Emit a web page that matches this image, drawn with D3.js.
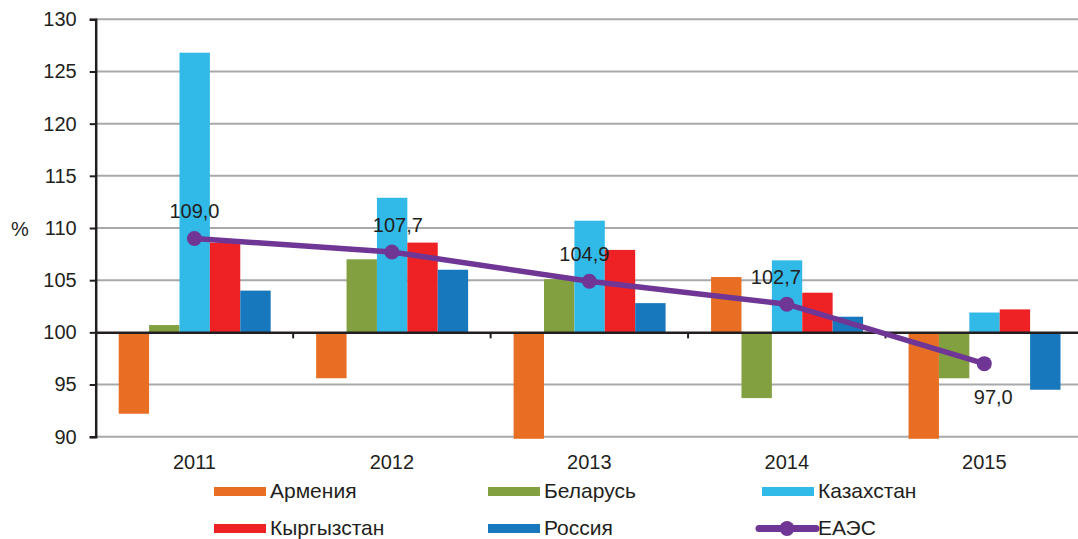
<!DOCTYPE html>
<html><head><meta charset="utf-8">
<script src="https://cdn.jsdelivr.net/npm/d3@7"></script>
<style>body{margin:0;background:#fff}svg{display:block}text{font-family:Arial,"Liberation Sans",sans-serif;fill:#231F20}</style>
</head><body><svg id="c" width="1078" height="539"></svg>
<script>
const years = ["2011","2012","2013","2014","2015"];
const seriesNames = ["Армения","Беларусь","Казахстан","Кыргызстан","Россия"];
const armenia    = [92.2, 95.6, 89.8, 105.3, 89.8];
const belarus    = [100.7, 107.0, 105.1, 93.7, 95.6];
const kazakhstan = [126.8, 112.9, 110.7, 106.9, 101.9];
const kyrgyzstan = [108.6, 108.6, 107.9, 103.8, 102.2];
const russia     = [104.0, 106.0, 102.8, 101.5, 94.5];
const eaeu       = [109.0, 107.7, 104.9, 102.7, 97.0];
const eaeuName = "ЕАЭС";
const yTicks = [90, 95, 100, 105, 110, 115, 120, 125, 130];

const colors = ["#E86E24","#82A040","#31B9E8","#EE2125","#1778BE"];
const lineColor = "#6F3696";
const seriesVals = [armenia, belarus, kazakhstan, kyrgyzstan, russia];

const svg = d3.select("#c");
const pLeft = 95.7, pRight = 1083, pTop = 19.3, pBottom = 436.7;
const x0 = d3.scaleBand().domain(years).range([pLeft, pRight]).padding(0);
const x1 = d3.scaleBand().domain(seriesNames).range([23, x0.bandwidth() - 22.5]).padding(0);
const y = d3.scaleLinear().domain([90, 130]).range([pBottom, pTop]);

// gridlines
svg.append("g").selectAll("line").data(yTicks.filter(t => t !== 100)).join("line")
  .attr("x1", pLeft).attr("x2", 1078).attr("y1", d => y(d)).attr("y2", d => y(d))
  .attr("stroke", "#A7A9AC").attr("stroke-width", 2);

// bars
const gb = svg.append("g");
seriesNames.forEach((s, i) => {
  gb.append("g").selectAll("rect").data(seriesVals[i]).join("rect")
    .attr("x", (d, j) => x0(years[j]) + x1(s))
    .attr("width", x1.bandwidth())
    .attr("y", d => Math.min(y(d), y(100)))
    .attr("height", d => Math.abs(y(d) - y(100)))
    .attr("fill", colors[i]);
});

// y axis
const yAxis = d3.axisLeft(y).tickValues(yTicks).tickSize(6).tickPadding(13).tickFormat(d3.format("d"));
const ga = svg.append("g").attr("transform", `translate(${pLeft},0)`).call(yAxis);
ga.select(".domain").attr("stroke", "#231F20").attr("stroke-width", 2.5);
ga.selectAll(".tick line").attr("stroke", "#231F20").attr("stroke-width", 2);
ga.selectAll(".tick text").style("font-size", "20px").attr("fill", "#231F20").attr("font-family", "Arial, 'Liberation Sans', sans-serif");

// baseline x axis at 100
const xAxis = d3.axisBottom(x0).tickSize(0).tickFormat("");
const gx = svg.append("g").attr("transform", `translate(0,${y(100)})`).call(xAxis);
gx.select(".domain").attr("stroke", "#231F20").attr("stroke-width", 2.5);
svg.append("g").selectAll("line").data(years.slice(1)).join("line")
  .attr("x1", d => x0(d)).attr("x2", d => x0(d))
  .attr("y1", y(100)).attr("y2", y(100) + 6)
  .attr("stroke", "#231F20").attr("stroke-width", 2);

// category labels
svg.append("g").selectAll("text").data(years).join("text")
  .attr("x", d => x0(d) + x0.bandwidth() / 2).attr("y", 469)
  .attr("text-anchor", "middle").style("font-size", "20px").text(d => d);

// % label
svg.append("text").attr("x", 20).attr("y", 236).attr("text-anchor", "middle").style("font-size", "20px").text("%");

// line
const cx = (j) => x0(years[j]) + x0.bandwidth() / 2;
svg.append("path").datum(eaeu)
  .attr("d", d3.line().x((d, j) => cx(j)).y(d => y(d)))
  .attr("fill", "none").attr("stroke", lineColor).attr("stroke-width", 5.5);
svg.append("g").selectAll("circle").data(eaeu).join("circle")
  .attr("cx", (d, j) => cx(j)).attr("cy", d => y(d)).attr("r", 7.5).attr("fill", lineColor);

// data labels
const labelDx = [0, 6, -5, -11, 9];
const labelBelow = [false, false, false, false, true];
svg.append("g").selectAll("text").data(eaeu).join("text")
  .attr("x", (d, j) => cx(j) + labelDx[j])
  .attr("y", (d, j) => y(d) + (labelBelow[j] ? 40 : -20))
  .attr("text-anchor", "middle").style("font-size", "20px")
  .text(d => d3.format(".1f")(d).replace(".", ","));

// legend
const legendItems = seriesNames.map((s, i) => ({name: s, color: colors[i], type: "bar"}))
  .concat([{name: eaeuName, color: lineColor, type: "line"}]);
const colX = [214, 488, 762];
const rowY = [491.5, 528.5];
const lg = svg.append("g");
legendItems.forEach((it, k) => {
  const xx = colX[k % 3], yy = rowY[Math.floor(k / 3)];
  if (it.type === "bar") {
    lg.append("rect").attr("x", xx).attr("y", yy - 4.5).attr("width", 52).attr("height", 9).attr("fill", it.color);
  } else {
    lg.append("line").attr("x1", xx - 3).attr("x2", xx + 54).attr("y1", yy).attr("y2", yy)
      .attr("stroke", it.color).attr("stroke-width", 7).attr("stroke-linecap", "round");
    lg.append("circle").attr("cx", xx + 25).attr("cy", yy).attr("r", 7.5).attr("fill", it.color);
  }
  lg.append("text").attr("x", xx + 56).attr("y", yy + 6.8)
    .style("font-size", "21px").text(it.name);
});
</script></body></html>
